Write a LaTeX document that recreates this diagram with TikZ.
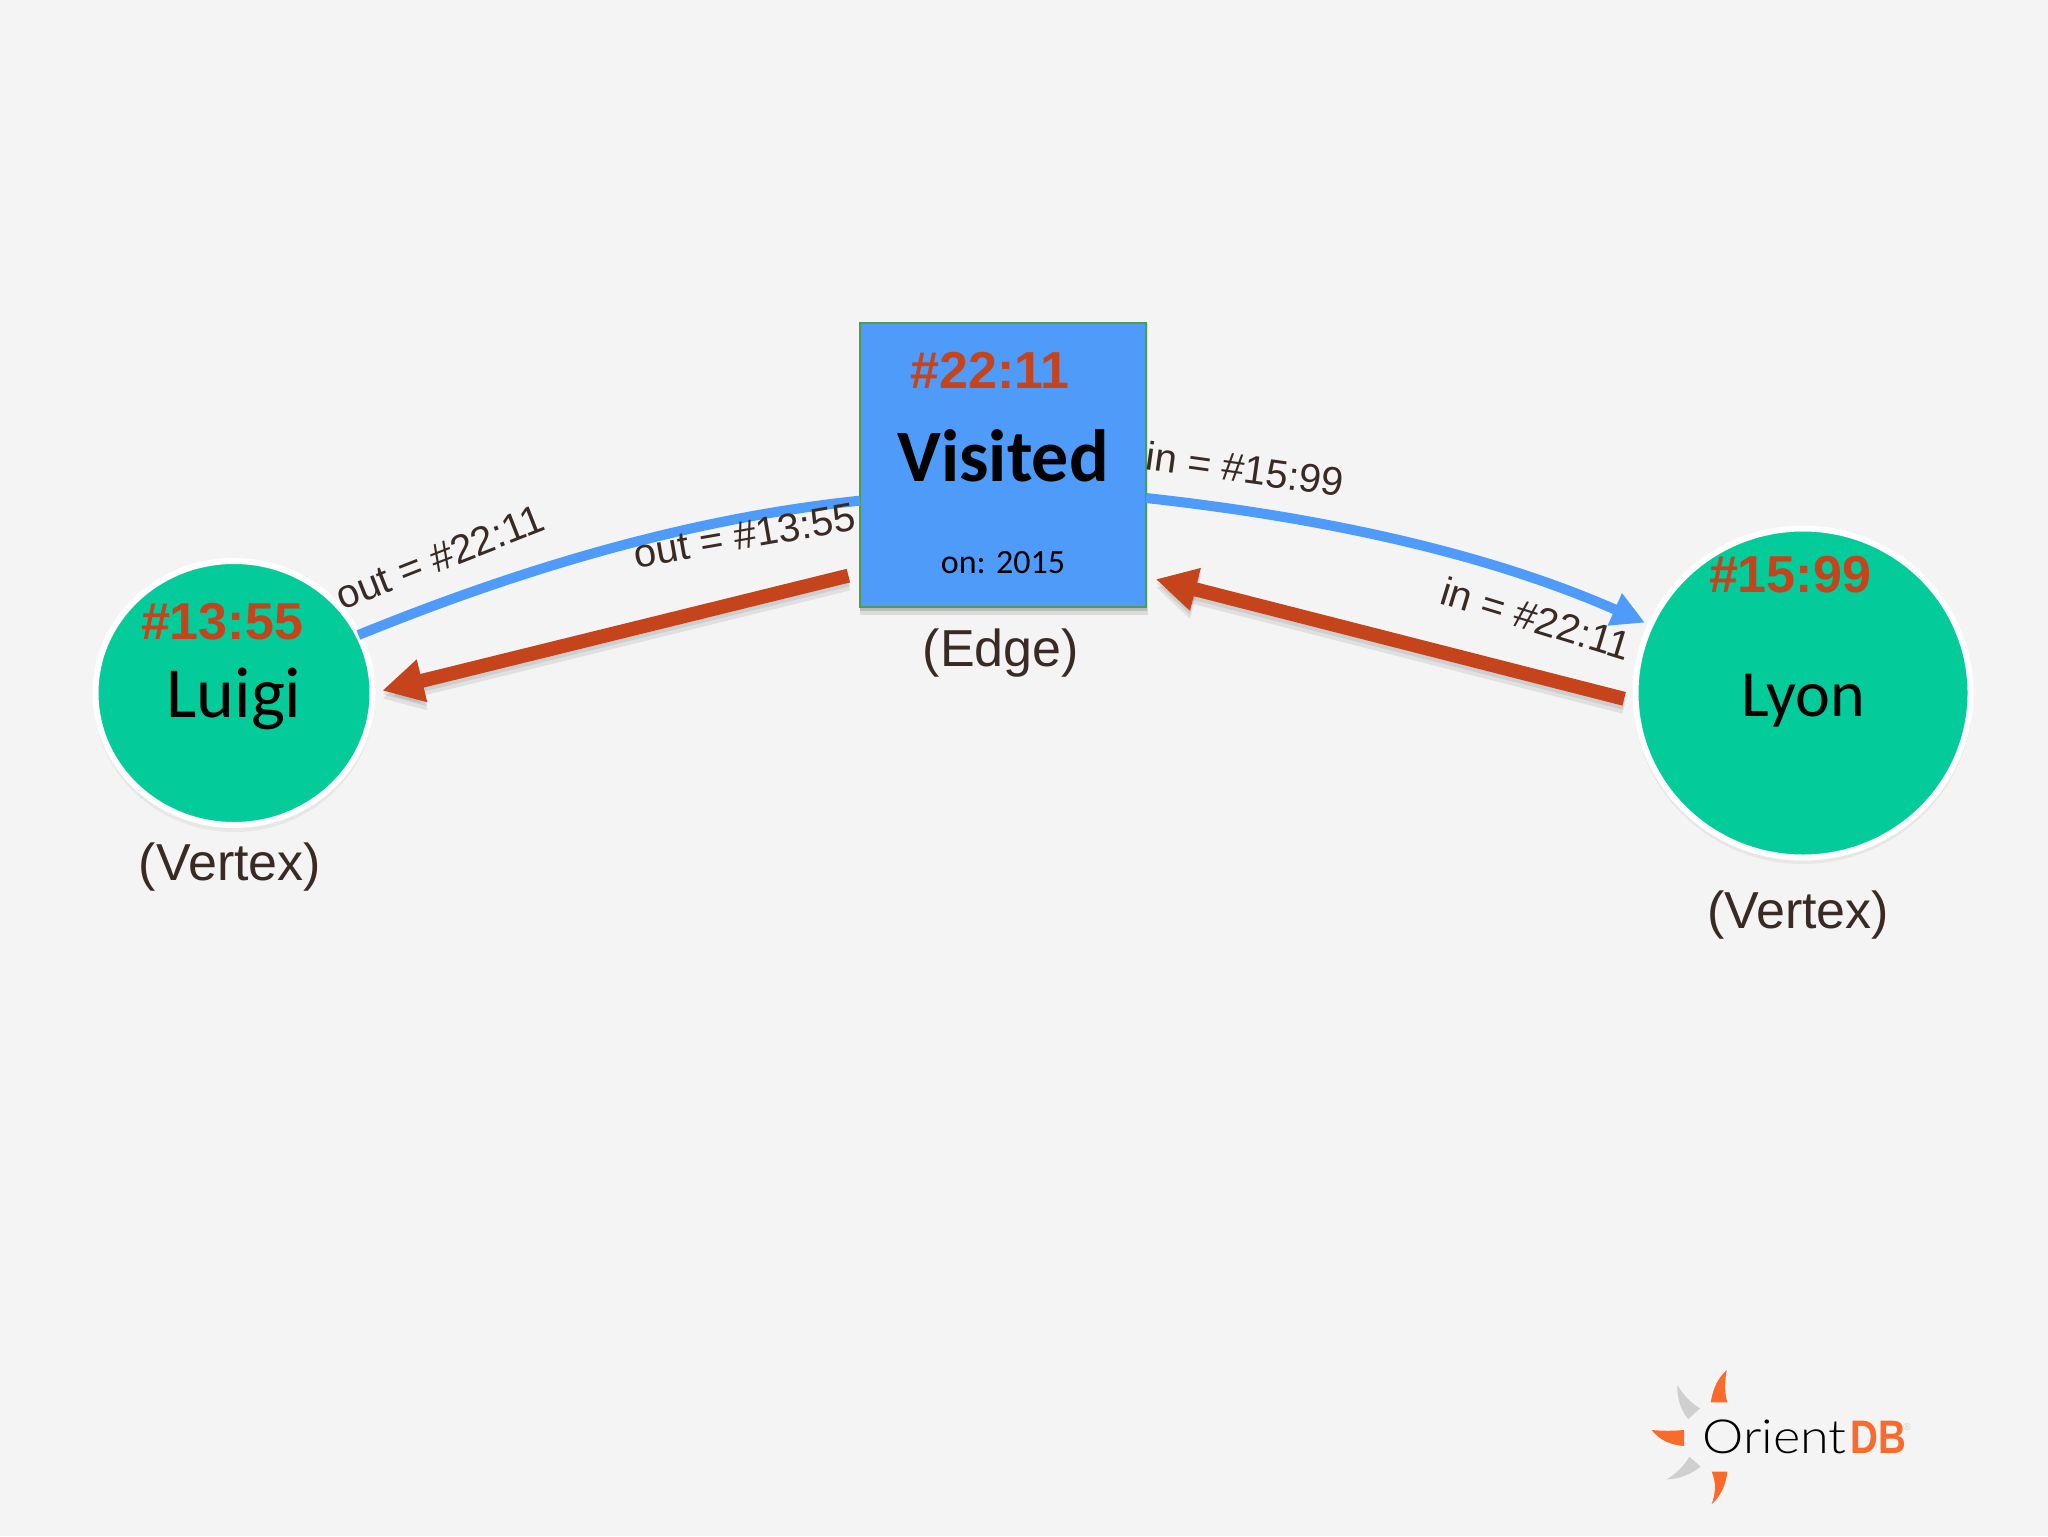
\documentclass[tikz,border=0pt]{standalone}
\usepackage{fontspec}
\usetikzlibrary{arrows.meta,shapes.geometric,shadows}
\setmainfont{Liberation Sans}
\newfontfamily\calfont{Carlito}
\newfontfamily\logofont{Lato Light}
\definecolor{bgc}{HTML}{F4F4F4}
\definecolor{greenc}{HTML}{03CB9A}
\definecolor{bluec}{HTML}{4F9BF9}
\definecolor{redc}{HTML}{C5441C}
\definecolor{labelc}{HTML}{3A2A24}
\definecolor{logoor}{HTML}{F96A2B}
\definecolor{logogr}{HTML}{CFCFCF}
\tikzset{
  vertexbox/.style={ellipse,draw=white,line width=3pt,fill=greenc,inner sep=0pt,outer sep=0pt},
  edgebox/.style={rectangle,draw=green!45!black!70!white,line width=1pt,fill=bluec,inner sep=0pt,outer sep=0pt,
     minimum width=143pt,minimum height=142pt},
  ridtext/.style={anchor=base,text=redc,font=\fontsize{26}{26}\selectfont\bfseries},
  captext/.style={anchor=base,text=labelc,font=\fontsize{26}{26}\selectfont},
  proptext/.style={anchor=base,text=labelc,font=\fontsize{20}{20}\selectfont},
  bluelink/.style={draw=bluec,line width=5pt},
  redlink/.style={draw=redc,line width=7pt,-{Triangle[length=20.5pt,width=20.5pt]},shorten <=6pt,shorten >=5pt},
  redshadow/.style={draw=black,line width=7pt,opacity=.08,-{Triangle[length=20.5pt,width=20.5pt]},shorten <=6pt,shorten >=5pt},
}
\begin{document}
\begin{tikzpicture}[x=.5pt,y=-.5pt]
\useasboundingbox[fill=bgc] (0,0) rectangle (2048,1536);
% soft shadows
\fill[black,opacity=.05] (234,696) ellipse [x radius=141,y radius=136];
\fill[black,opacity=.05] (1803,696) ellipse [x radius=170,y radius=168];
\fill[black,opacity=.10] (860,323) rectangle (1148,615);
\fill[black,opacity=.15] (860,323) rectangle (1147,611);
% vertices and edge record
\node[vertexbox,minimum width=138.5pt,minimum height=132pt] (luigi) at (234,693) {};
\node[vertexbox,minimum width=167.5pt,minimum height=164.5pt] (lyon) at (1803,693) {};
\node[edgebox] (visited) at (1003,465) {};
% connectors
\draw[bluelink] (luigi.25.5) .. controls (528,566) and (694,518) .. (visited.194.9);
\draw[bluelink,-{Triangle[length=16.5pt,width=16.5pt]},shorten >=3pt] (visited.-13.8) .. controls (1310,516) and (1480,550) .. (lyon.156);
\draw[redshadow] ([yshift=-2pt]visited.217.3) -- ([yshift=-2pt]luigi.east);
\draw[redshadow] ([yshift=-4pt]visited.217.3) -- ([yshift=-4pt]luigi.east);
\draw[redlink] (visited.217.3) -- (luigi.east);
\draw[redshadow] ([yshift=-2pt]lyon.183.4) -- ([yshift=-2pt]visited.-38.8);
\draw[redshadow] ([yshift=-4pt]lyon.183.4) -- ([yshift=-4pt]visited.-38.8);
\draw[redlink] (lyon.183.4) -- (visited.-38.8);
% texts
\node[ridtext] (rid1) at (222,639) {\#13:55};
\node[anchor=base,font=\calfont\fontsize{36}{36}\selectfont] (t1) at (234,717) {Luigi};
\node[captext] (c1) at (230,880) {(Vertex)};
\node[ridtext] (rid2) at (990,388) {\#22:11};
\node[anchor=base,font=\calfont\bfseries\fontsize{37}{37}\selectfont] (t2) at (1003,481) {Visited};
\node[anchor=base,font=\calfont\fontsize{17}{17}\selectfont] (t3) at (1003,573) {on: 2015};
\node[captext] (c2) at (1001,666) {(Edge)};
\node[ridtext] (rid3) at (1790,592) {\#15:99};
\node[anchor=base,font=\calfont\fontsize{33}{33}\selectfont] (t4) at (1803,716) {Lyon};
\node[captext] (c3) at (1798,928) {(Vertex)};
\node[proptext,rotate=21.5] (p1) at (445,570) {out = \#22:11};
\node[proptext,rotate=10] (p2) at (747,549) {out = \#13:55};
\node[proptext,rotate=-8] (p3) at (1243,483) {in = \#15:99};
\node[proptext,rotate=-17] (p4) at (1532,632) {in = \#22:11};
% logo
\fill[logoor] (1726.7,1370) .. controls (1716,1380) and (1713,1390) .. (1710.7,1402.3) -- (1727.3,1402.3) .. controls (1724,1392) and (1725,1380) .. cycle;
\fill[logoor] (1651.7,1430) .. controls (1662,1431) and (1673,1431) .. (1684,1430) -- (1684,1446) .. controls (1672,1445) and (1660,1441) .. cycle;
\fill[logoor] (1711.7,1471.7) -- (1727.3,1471.7) .. controls (1726,1485) and (1720,1497) .. (1711.7,1504) .. controls (1716,1492) and (1716,1482) .. cycle;
\fill[logogr] (1677.3,1385) .. controls (1684,1396) and (1691,1403) .. (1700,1408.3) -- (1688.3,1419) .. controls (1680,1410) and (1677,1397) .. cycle;
\fill[logogr] (1666.7,1479.3) .. controls (1680,1479) and (1691,1474) .. (1700.7,1466.7) -- (1689.3,1456.7) .. controls (1684,1466) and (1676,1474) .. cycle;
\node[anchor=base west,inner sep=0pt,xscale=1.11,font=\logofont\fontsize{23.5}{23.5}\selectfont] (lg1) at (1702,1453) {Orient};
\node[anchor=base west,inner sep=0pt,xscale=.82,text=logoor,font=\bfseries\fontsize{23.5}{23.5}\selectfont] (lg2) at (1850,1453) {DB};
\node[inner sep=0pt,text=logogr,font=\fontsize{5}{5}\selectfont] (lg3) at (1907,1427) {®};
\end{tikzpicture}
\end{document}
